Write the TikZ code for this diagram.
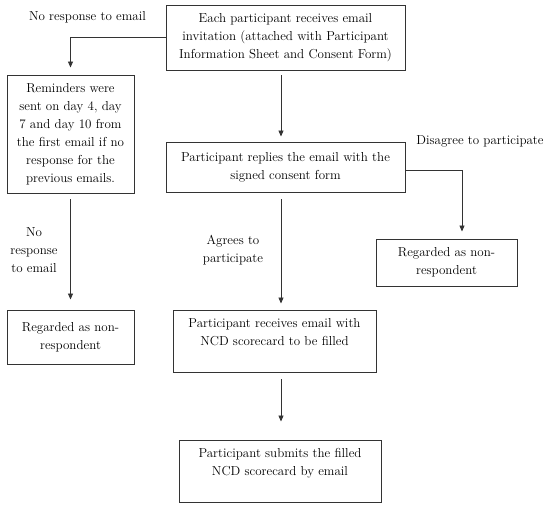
\documentclass[tikz,border=0pt]{standalone}
\usetikzlibrary{arrows.meta}
\begin{document}
\begin{tikzpicture}[x=1pt,y=-1pt]
			\tikzset{s/.style={draw=black!80,line width=0.9pt,rectangle,align=center,inner sep=2pt,font=\fontsize{13}{18}\selectfont},
				t/.style={align=center,font=\fontsize{13}{18}\selectfont},
				m/.style={-{Triangle[length=6pt,width=5pt]},line width=0.9pt,draw=black!80}}
			\useasboundingbox(0,0)rectangle(550,508);
			\coordinate(col)at(281,0);
			\path(285.5,37.5)node[s,minimum width=239pt,minimum height=65pt](A){Each participant receives email\\invitation (attached with Participant\\Information Sheet and Consent Form)};
			\path(70.5,134)node[s,minimum width=127pt,minimum height=118pt](R){Reminders were\\sent on day 4, day\\7 and day 10 from\\the first email if no\\response for the\\previous emails.};
			\path(285.5,167)node[s,minimum width=239pt,minimum height=50pt](P){Participant replies the email with the\\signed consent form};
			\path(446.5,262.5)node[s,minimum width=141pt,minimum height=47pt](N2){Regarded as non-\\respondent};
			\path(70.5,337)node[s,minimum width=127pt,minimum height=54pt](N1){Regarded as non-\\respondent};
			\path(274.5,341)node[s,minimum width=203pt,minimum height=62pt,text depth=17.5pt](E){Participant receives email with\\NCD scorecard to be filled};
			\path(280,471)node[s,minimum width=202pt,minimum height=62pt,text depth=17.5pt](S){Participant submits the filled\\NCD scorecard by email};
			\foreach \x/\y/\a/\b in {
				A/P/5/5,
				P/E/7/6,
				E/S/7/18}
			\draw[m,shorten <=\a pt,shorten >=\b pt](\x.south -| col)--(\y.north -| col);
			\draw[m,shorten <=6pt,shorten >=10pt](R.south)--(N1.north);
			\draw[m,shorten >=7pt](A.west)-|(R.north);
			\draw[m,shorten >=7pt]([yshift=-3pt]P.east)-|([xshift=15.5pt]N2.north);
			%%Nhãn các mũi tên
			\path(87.5,17)node[t](l1){No response to email};
			\path(34,250)node[t](l2){No\\response\\to email};
			\path(233,250)node[t](l3){Agrees to\\participate};
			\path(480,141)node[t](l4){Disagree to participate};
		\end{tikzpicture}
\end{document}
